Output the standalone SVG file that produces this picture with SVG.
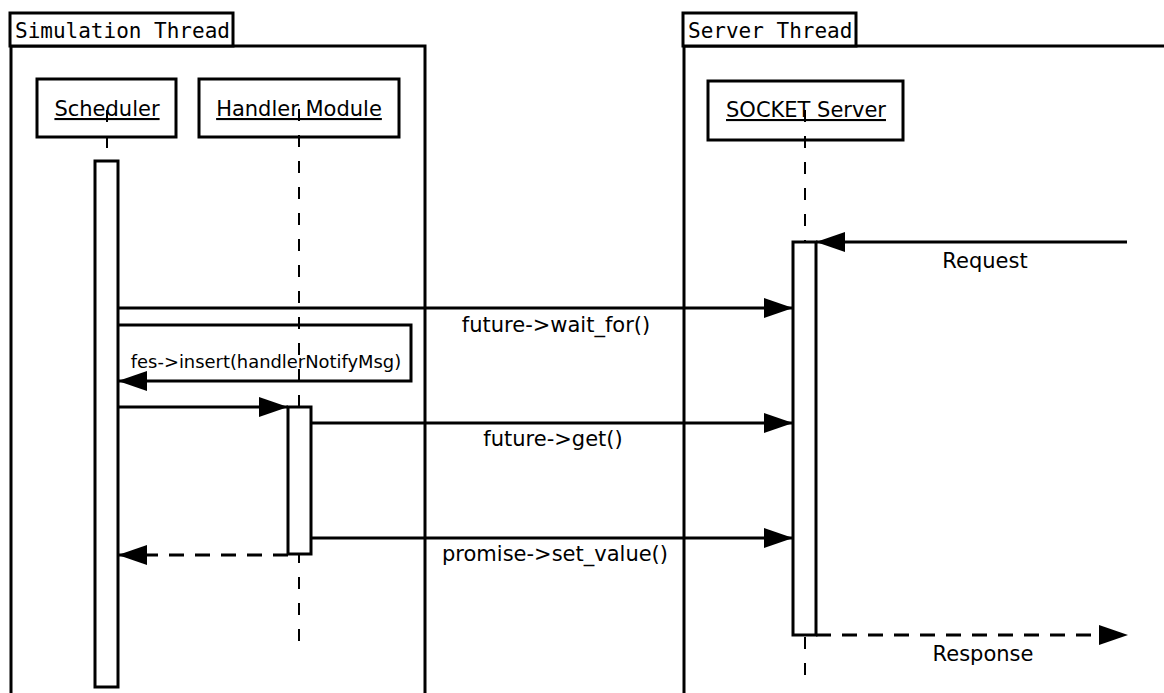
<svg xmlns="http://www.w3.org/2000/svg" width="1164" height="693" viewBox="0 0 1164 693">
<defs>
<style>
.frame{fill:none;stroke:#000;stroke-width:3}
.tab{fill:#fff;stroke:#000;stroke-width:3}
.tabtext{font-family:"DejaVu Sans Mono","Liberation Mono",monospace;font-size:21px;fill:#000}
.obj{fill:#fff;stroke:#000;stroke-width:3}
.objtext{font-family:"DejaVu Sans","Liberation Sans",sans-serif;font-size:21px;fill:#000;text-anchor:middle;text-decoration:underline}
.life{stroke:#000;stroke-width:2;stroke-dasharray:12 14;fill:none}
.act{fill:#fff;stroke:#000;stroke-width:3}
.msg{stroke:#000;stroke-width:3;fill:none}
.ret{stroke:#000;stroke-width:3;fill:none;stroke-dasharray:15 11}
.lbl{font-family:"DejaVu Sans","Liberation Sans",sans-serif;font-size:21px;fill:#000;text-anchor:middle}
.lbls{font-family:"DejaVu Sans","Liberation Sans",sans-serif;font-size:17.9px;fill:#000;text-anchor:middle}
</style>
<marker id="ah" markerUnits="userSpaceOnUse" markerWidth="30" markerHeight="20" refX="29" refY="10" orient="auto">
<path d="M0,0 L29,10 L0,20 z" fill="#000"/>
</marker>
</defs>
<g id="frame-simulation">
<path class="frame" d="M11,700 L11,46 L425,46 L425,700"/>
<rect class="tab" x="10" y="13" width="223" height="33"/>
<text class="tabtext" x="15" y="38">Simulation Thread</text>
</g>
<g id="frame-server">
<path class="frame" d="M684,700 L684,46 L1170,46"/>
<rect class="tab" x="683" y="13" width="173" height="33"/>
<text class="tabtext" x="688" y="38">Server Thread</text>
</g>
<g id="scheduler">
<rect class="obj" x="37" y="79" width="139" height="58"/>
<text class="objtext" x="107" y="116">Scheduler</text>
</g>
<g id="handler-module">
<rect class="obj" x="199" y="79" width="200" height="58"/>
<text class="objtext" x="299" y="116">Handler Module</text>
</g>
<g id="socket-server">
<rect class="obj" x="708" y="81" width="195" height="59"/>
<text class="objtext" x="806" y="117">SOCKET Server</text>
</g>
<g id="connectors">
<line class="life" x1="107" y1="110" x2="107" y2="161"/>
<line class="life" x1="299" y1="109" x2="299" y2="642"/>
<line class="life" x1="805" y1="110" x2="805" y2="242"/>
<line class="life" x1="805" y1="637" x2="805" y2="676"/>
<line class="msg" x1="1127" y1="242" x2="816" y2="242" marker-end="url(#ah)"/>
<line class="msg" x1="118" y1="308" x2="793" y2="308" marker-end="url(#ah)"/>
<path class="msg" d="M118,325 L411,325 L411,381 L118,381" marker-end="url(#ah)"/>
<line class="msg" x1="118" y1="407" x2="288" y2="407" marker-end="url(#ah)"/>
<line class="msg" x1="311" y1="423" x2="793" y2="423" marker-end="url(#ah)"/>
<line class="msg" x1="311" y1="538" x2="793" y2="538" marker-end="url(#ah)"/>
<line class="ret" x1="288" y1="555" x2="118" y2="555" marker-end="url(#ah)"/>
<line class="ret" x1="816" y1="635" x2="1128" y2="635" marker-end="url(#ah)"/>
<line class="life" x1="299" y1="109" x2="299" y2="406"/>
</g>
<g id="activations">
<rect class="act" x="95" y="161" width="23" height="526"/>
<rect class="act" x="288" y="407" width="23" height="147"/>
<rect class="act" x="793" y="242" width="23" height="393"/>
</g>
<g id="labels">
<text class="lbl" x="985" y="268">Request</text>
<text class="lbl" x="556" y="332">future-&gt;wait_for()</text>
<text class="lbls" x="266" y="368">fes-&gt;insert(handlerNotifyMsg)</text>
<text class="lbl" x="553" y="446">future-&gt;get()</text>
<text class="lbl" x="555" y="561">promise-&gt;set_value()</text>
<text class="lbl" x="983" y="661">Response</text>
</g>
</svg>
